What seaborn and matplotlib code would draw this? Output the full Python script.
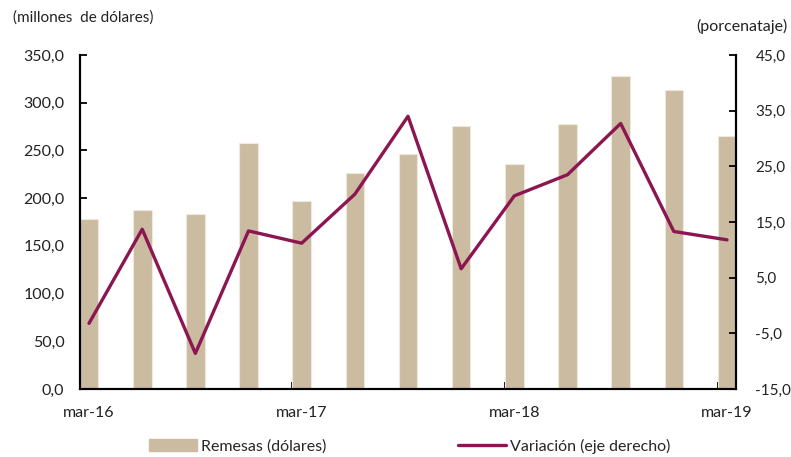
import matplotlib
matplotlib.use("Agg")
import matplotlib.pyplot as plt
import matplotlib.ticker as mticker
import numpy as np
import pandas as pd
import seaborn as sns

periodos = ["mar-16", "jun-16", "sep-16", "dic-16", "mar-17", "jun-17", "sep-17",
            "dic-17", "mar-18", "jun-18", "sep-18", "dic-18", "mar-19"]
remesas = [178.0, 187.5, 183.5, 257.5, 196.5, 226.0, 246.5, 276.0, 235.5, 278.0, 328.5, 313.5, 265.5]
variacion = [-3.2, 13.7, -8.6, 13.4, 11.2, 20.0, 34.0, 6.6, 19.7, 23.5, 32.7, 13.3, 11.8]
etiquetas_x = ["mar-16", "mar-17", "mar-18", "mar-19"]

BAR = "#CBBBA0"
LINE = "#8C1652"

sns.set_style("white")
plt.rcParams["font.family"] = ["Lato", "DejaVu Sans"]
plt.rcParams["font.size"] = 11.5

df = pd.DataFrame({"periodo": periodos, "remesas": remesas, "variacion": variacion})
df["pos"] = np.arange(len(df))

fig = plt.figure(figsize=(7.91, 4.57), dpi=100)
ax = fig.add_axes([0.1008, 0.1488, 0.8297, 0.7308])

sns.barplot(data=df, x="periodo", y="remesas", order=periodos, color=BAR,
            width=0.35, edgecolor="#EFE8DC", linewidth=0.8, saturation=1, ax=ax)
ax2 = ax.twinx()
sns.lineplot(data=df, x="pos", y="variacion", color=LINE, linewidth=2.4, ax=ax2)

off = 0.175
ax.set_xlim(-off, 12.17)
ax2.set_xlim(-off, 12.17)
ax.set_ylim(0, 350)
ax2.set_ylim(-15, 45)
ax.set_yticks(np.arange(0, 351, 50))
ax2.set_yticks(np.arange(-15, 46, 10))
fmt = mticker.FuncFormatter(lambda v, p: f"{v:.1f}".replace(".", ","))
ax.yaxis.set_major_formatter(fmt)
ax2.yaxis.set_major_formatter(fmt)

lab_pos = [periodos.index(e) for e in etiquetas_x]
ax.set_xticks(lab_pos)
ax.set_xticklabels(etiquetas_x)
ax.xaxis.set_minor_locator(mticker.FixedLocator([p - off for p in lab_pos]))
ax.tick_params(axis="x", which="major", bottom=True, length=0, pad=12, labelcolor="#222222")
ax.tick_params(axis="x", which="minor", bottom=True, direction="in", length=5, width=1.3, color="black")
ax.tick_params(axis="y", left=True, direction="in", length=5, width=1.3, pad=11,
               color="black", labelcolor="#222222")
ax2.tick_params(axis="y", right=True, direction="in", length=5, width=1.3, pad=14,
                color="black", labelcolor="#222222", labelsize=11)
ax2.tick_params(axis="x", bottom=False, top=False)

ax.set_xlabel("")
ax.set_ylabel("")
ax2.set_xlabel("")
ax2.set_ylabel("")
for a in (ax, ax2):
    for s in ["left", "right", "bottom"]:
        a.spines[s].set_visible(True)
        a.spines[s].set_color("black")
        a.spines[s].set_linewidth(1.5)
    a.spines["top"].set_visible(False)

fig.text(0.016, 0.962, "(millones  de dólares)", fontsize=11, color="#222222", va="center")
fig.text(0.996, 0.942, "(porcenataje)", fontsize=11.5, color="#222222", va="center", ha="right")

h_bar = plt.Rectangle((0, 0), 1, 1, color=BAR)
h_line = plt.Line2D([0], [0], color=LINE, linewidth=2.4)
fig.legend([h_bar, h_line], ["Remesas (dólares)", "Variación (eje derecho)"],
           loc="center", bbox_to_anchor=(0.518, 0.024), ncol=2, frameon=False,
           handlelength=3.0, handleheight=0.8, handletextpad=0.3, columnspacing=8.2,
           fontsize=11.5)

fig.savefig("out.png", dpi=100)
